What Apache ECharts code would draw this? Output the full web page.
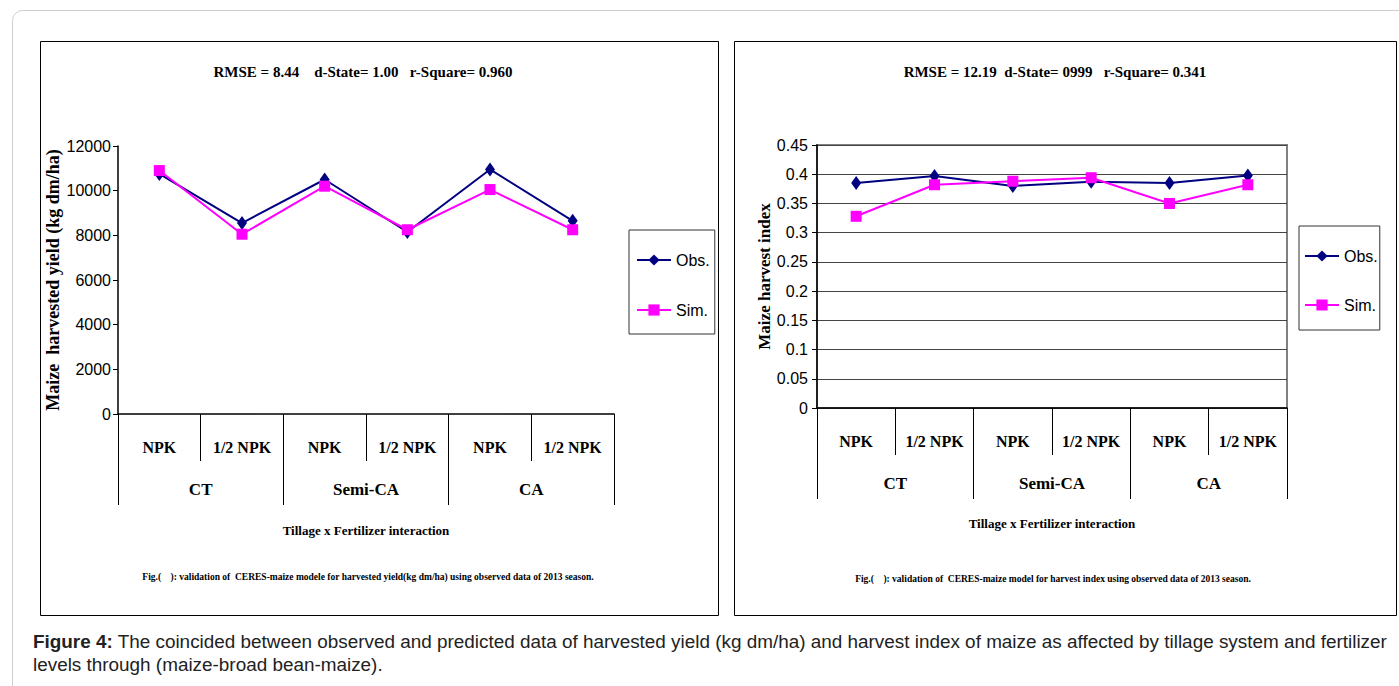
<!DOCTYPE html>
<html>
<head>
<meta charset="utf-8">
<title>Figure 4</title>
<script src="https://cdn.jsdelivr.net/npm/echarts@6/dist/echarts.min.js"></script>
<style>
  html, body { margin: 0; padding: 0; background: #fff; }
  #chart { width: 1399px; height: 686px; }
</style>
</head>
<body>
<div id="chart"></div>
<script>
// categories
var fertilizers = ['NPK', '1/2 NPK', 'NPK', '1/2 NPK', 'NPK', '1/2 NPK'];
var tillages = ['CT', 'Semi-CA', 'CA'];

// harvested yield (kg dm/ha)
var yieldObs = [10750, 8550, 10500, 8150, 10950, 8650];
var yieldSim = [10900, 8050, 10200, 8250, 10050, 8250];

// harvest index
var hiObs = [0.385, 0.397, 0.380, 0.387, 0.385, 0.398];
var hiSim = [0.328, 0.382, 0.388, 0.394, 0.350, 0.382];

// y ticks
var yieldTicks = { min: 0, max: 12000, interval: 2000 };
var hiTicks = { min: 0, max: 0.45, interval: 0.05 };

var serif = "'Liberation Serif', 'Times New Roman', serif";
var sans = "'Liberation Sans Narrow', 'Arial Narrow', 'Liberation Sans', Arial, sans-serif";

var myChart = echarts.init(document.getElementById('chart'), null, { renderer: 'svg' });

function innerAxis(grid, tickLen, margin) {
  return {
    type: 'category',
    gridIndex: grid,
    position: 'bottom',
    data: fertilizers,
    axisLine: { lineStyle: { color: '#000', width: 1.5 } },
    axisTick: { show: true, interval: 0, length: tickLen, lineStyle: { color: '#000' } },
    axisLabel: { interval: 0, margin: margin, color: '#000', fontFamily: serif, fontWeight: 'bold', fontSize: 16 }
  };
}

function groupAxis(grid, tickLen, margin, nameGap) {
  return {
    type: 'category',
    gridIndex: grid,
    position: 'bottom',
    data: tillages,
    name: 'Tillage x Fertilizer interaction',
    nameLocation: 'middle',
    nameGap: nameGap,
    nameTextStyle: { color: '#000', fontFamily: serif, fontWeight: 'bold', fontSize: 13 },
    axisLine: { show: false },
    axisTick: { show: true, interval: 0, length: tickLen, lineStyle: { color: '#000' } },
    axisLabel: { interval: 0, margin: margin, color: '#000', fontFamily: serif, fontWeight: 'bold', fontSize: 17 }
  };
}

function obsSeries(x, y, data) {
  return {
    name: 'Obs.', type: 'line', xAxisIndex: x, yAxisIndex: y, data: data,
    symbol: 'diamond', symbolSize: [10, 14],
    color: '#000080',
    lineStyle: { color: '#000080', width: 2 },
    itemStyle: { color: '#000080' }
  };
}

function simSeries(x, y, data) {
  return {
    name: 'Sim.', type: 'line', xAxisIndex: x, yAxisIndex: y, data: data,
    symbol: 'rect', symbolSize: 11,
    color: '#ff00ff',
    lineStyle: { color: '#ff00ff', width: 2 },
    itemStyle: { color: '#ff00ff' }
  };
}

var legendBase = {
  orient: 'vertical',
  data: ['Obs.', 'Sim.'],
  itemWidth: 34,
  itemHeight: 14,
  borderColor: '#333',
  borderWidth: 1,
  selectedMode: false,
  textStyle: { color: '#000', fontFamily: sans, fontSize: 16 }
};

var option = {
  animation: false,
  grid: [
    { left: 118, top: 146, right: 785, bottom: 272 },
    { left: 817, top: 145, right: 112, bottom: 278, show: true, borderColor: '#808080', borderWidth: 2 }
  ],
  xAxis: [
    innerAxis(0, 47, 25),
    groupAxis(0, 91, 67, 110),
    innerAxis(1, 47, 25),
    groupAxis(1, 91, 67, 109)
  ],
  yAxis: [
    {
      type: 'value', gridIndex: 0,
      min: yieldTicks.min, max: yieldTicks.max, interval: yieldTicks.interval,
      name: 'Maize  harvested yield (kg dm/ha)',
      nameLocation: 'middle', nameRotate: 90, nameGap: 56,
      nameTextStyle: { color: '#000', fontFamily: serif, fontWeight: 'bold', fontSize: 18 },
      axisLine: { show: true, lineStyle: { color: '#000', width: 1.5 } },
      axisTick: { show: true, length: 5, lineStyle: { color: '#000' } },
      axisLabel: { margin: 7, color: '#000', fontFamily: sans, fontSize: 16,
        formatter: function (v) { return String(v); } },
      splitLine: { show: false }
    },
    {
      type: 'value', gridIndex: 1,
      min: hiTicks.min, max: hiTicks.max, interval: hiTicks.interval,
      name: 'Maize harvest index',
      nameLocation: 'middle', nameRotate: 90, nameGap: 44,
      nameTextStyle: { color: '#000', fontFamily: serif, fontWeight: 'bold', fontSize: 17 },
      axisLine: { show: true, lineStyle: { color: '#000', width: 1.5 } },
      axisTick: { show: true, length: 5, lineStyle: { color: '#000' } },
      axisLabel: { margin: 9, color: '#000', fontFamily: sans, fontSize: 16 },
      splitLine: { show: true, lineStyle: { color: '#444', width: 1 } }
    }
  ],
  legend: [
    Object.assign({}, legendBase, { left: 629, top: 230, itemGap: 34, padding: [22, 5, 16, 7] }),
    Object.assign({}, legendBase, { left: 1299, top: 226, itemGap: 33, padding: [22, 2, 17, 5] })
  ],
  series: [
    obsSeries(0, 0, yieldObs),
    simSeries(0, 0, yieldSim),
    obsSeries(2, 1, hiObs),
    simSeries(2, 1, hiSim)
  ],
  graphic: [
    // outer page frame
    { type: 'rect', silent: true, shape: { x: 12.5, y: 10.5, width: 1420, height: 720, r: 10 },
      style: { fill: 'none', stroke: '#cfcfcf', lineWidth: 1 } },
    // panel frames
    { type: 'rect', silent: true, shape: { x: 40.5, y: 41.5, width: 678, height: 574 },
      style: { fill: 'none', stroke: '#000', lineWidth: 1 } },
    { type: 'rect', silent: true, shape: { x: 734.5, y: 41.5, width: 662, height: 574 },
      style: { fill: 'none', stroke: '#000', lineWidth: 1 } },
    // panel titles
    { type: 'text', silent: true, style: {
        text: 'RMSE = 8.44    d-State= 1.00   r-Square= 0.960', x: 363, y: 72,
        textAlign: 'center', textVerticalAlign: 'middle', align: 'center', verticalAlign: 'middle',
        fill: '#000', font: 'bold 15px ' + serif } },
    { type: 'text', silent: true, style: {
        text: 'RMSE = 12.19  d-State= 0999   r-Square= 0.341', x: 1055, y: 72,
        textAlign: 'center', textVerticalAlign: 'middle', align: 'center', verticalAlign: 'middle',
        fill: '#000', font: 'bold 15px ' + serif } },
    // panel notes
    { type: 'text', silent: true, style: {
        text: 'Fig.(    ): validation of  CERES-maize modele for harvested yield(kg dm/ha) using observed data of 2013 season.',
        x: 368, y: 577,
        textAlign: 'center', textVerticalAlign: 'middle', align: 'center', verticalAlign: 'middle',
        fill: '#000', font: 'bold 9.5px ' + serif } },
    { type: 'text', silent: true, style: {
        text: 'Fig.(    ): validation of  CERES-maize model for harvest index using observed data of 2013 season.',
        x: 1053, y: 579,
        textAlign: 'center', textVerticalAlign: 'middle', align: 'center', verticalAlign: 'middle',
        fill: '#000', font: 'bold 9.5px ' + serif } },
    // figure caption
    { type: 'text', silent: true, style: {
        text: '{b|Figure 4:} The coincided between observed and predicted data of harvested yield (kg dm/ha) and harvest index of maize as affected by tillage system and fertilizer',
        x: 33, y: 641, textVerticalAlign: 'middle', verticalAlign: 'middle',
        fill: '#222', fontFamily: "'Liberation Sans', Arial, sans-serif", fontSize: 18.9,
        rich: { b: { fontWeight: 'bold', fontFamily: "'Liberation Sans', Arial, sans-serif", fontSize: 18.9, fill: '#222' } } } },
    { type: 'text', silent: true, style: {
        text: 'levels through (maize-broad bean-maize).',
        x: 33, y: 664, textVerticalAlign: 'middle', verticalAlign: 'middle',
        fill: '#222', font: "18.9px 'Liberation Sans', Arial, sans-serif" } }
  ]
};

myChart.setOption(option);
</script>
</body>
</html>
